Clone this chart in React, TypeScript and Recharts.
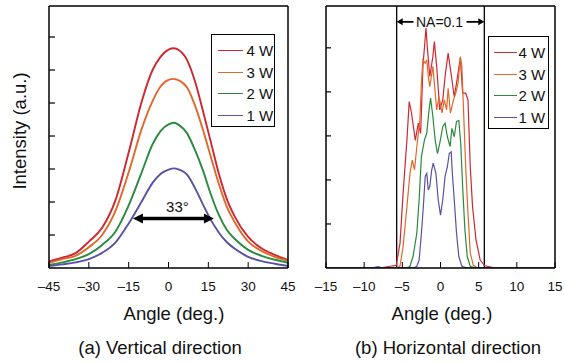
import { Label, Legend, Line, LineChart, ReferenceLine, XAxis, YAxis } from "recharts";

const FONT = "'Liberation Sans', Arial, Helvetica, sans-serif";

const seriesNames = ["4 W", "3 W", "2 W", "1 W"];
const seriesColors = ["#cf2731", "#e0692a", "#2b8a3e", "#5852a3"];

// (a) vertical direction, intensity in a.u. (one unit = one tick)
const vAngles = [-45, -40, -35, -30, -25, -20, -15, -10, -6, -3, 0, 2, 4, 7, 10, 13, 16, 19, 22, 25, 30, 35, 40, 45];
const v4W = [0.2, 0.31, 0.45, 0.8, 1.22, 2.05, 3.5, 5.07, 6.0, 6.4, 6.62, 6.66, 6.6, 6.3, 5.65, 4.75, 3.8, 2.85, 2.08, 1.55, 0.94, 0.6, 0.4, 0.24];
const v3W = [0.16, 0.27, 0.37, 0.63, 1.0, 1.72, 2.9, 4.24, 5.06, 5.5, 5.7, 5.73, 5.68, 5.47, 4.92, 4.18, 3.35, 2.54, 1.85, 1.38, 0.8, 0.52, 0.34, 0.22];
const v2W = [0.09, 0.17, 0.27, 0.42, 0.7, 1.1, 1.9, 2.92, 3.75, 4.15, 4.35, 4.4, 4.33, 4.08, 3.57, 2.95, 2.22, 1.6, 1.15, 0.88, 0.55, 0.37, 0.25, 0.16];
const v1W = [0.06, 0.11, 0.17, 0.27, 0.46, 0.77, 1.35, 2.03, 2.58, 2.85, 2.98, 3.02, 2.98, 2.83, 2.42, 1.92, 1.45, 1.07, 0.78, 0.58, 0.34, 0.21, 0.13, 0.06];
const vTicksX = [-45, -30, -15, 0, 15, 30, 45];
const vTicksY = [1, 2, 3, 4, 5, 6, 7];
const vTop = 7.94;
const fwhmFrom = -13.4;
const fwhmTo = 17.1;
const fwhmLevel = 1.5;

// (b) horizontal direction
const hAngles4W = [-15, -8, -6.6, -5.8, -5.3, -4.9, -4.4, -4.1, -3.8, -3.3, -2.9, -2.6, -2.3, -1.9, -1.7, -1.4, -1.0, -0.8, -0.5, -0.1, 0.3, 0.6, 1.0, 1.5, 1.8, 2.1, 2.6, 2.9, 3.3, 3.6, 3.9, 4.2, 4.65, 5.2, 5.8, 6.9, 8, 15];
const hInt4W = [0, 0, 0.04, 0.06, 0.57, 1.7, 2.9, 3.78, 3.52, 2.9, 3.29, 3.06, 4.58, 5.45, 4.95, 4.35, 4.8, 5.14, 4.58, 3.59, 3.82, 4.35, 4.88, 4.27, 3.89, 4.2, 4.77, 3.97, 3.97, 3.82, 2.3, 1.39, 0.64, 0.18, 0.05, 0.01, 0, 0];
const hAngles3W = [-15, -5.6, -5.3, -4.9, -4.4, -4.0, -3.7, -3.4, -3.1, -2.7, -2.5, -2.3, -2.0, -1.8, -1.6, -1.4, -1.0, -0.5, -0.2, 0.2, 0.5, 0.8, 1.0, 1.3, 1.7, 2.0, 2.3, 2.6, 2.8, 3.0, 3.3, 3.6, 3.9, 4.3, 4.8, 15];
const hInt3W = [0, 0.01, 0.05, 0.48, 1.39, 2.15, 2.45, 2.23, 2.76, 3.36, 4.2, 4.73, 4.65, 4.73, 4.35, 4.12, 4.58, 3.59, 3.89, 3.52, 3.82, 3.59, 4.08, 3.52, 3.82, 3.97, 4.2, 4.8, 4.58, 3.67, 2.3, 1.24, 0.34, 0.06, 0.01, 0];
const hAngles2W = [-15, -4.3, -4.0, -3.6, -3.1, -2.8, -2.5, -2.1, -1.8, -1.5, -1.3, -1.0, -0.7, -0.4, -0.1, 0.3, 0.6, 0.9, 1.25, 1.5, 1.8, 2.1, 2.4, 2.65, 2.9, 3.2, 3.5, 3.9, 4.4, 15];
const hInt2W = [0, 0.01, 0.04, 0.26, 0.79, 1.55, 2.53, 2.91, 3.06, 3.59, 3.86, 3.44, 2.91, 2.6, 2.83, 3.21, 3.29, 2.98, 2.76, 3.17, 2.98, 3.33, 3.35, 2.83, 1.85, 0.86, 0.26, 0.04, 0.01, 0];
const hAngles1W = [-15, -9, -8.2, -7.5, -3.4, -3.1, -2.8, -2.5, -2.25, -2.0, -1.8, -1.6, -1.4, -1.15, -0.95, -0.6, -0.3, 0.0, 0.3, 0.6, 0.9, 1.15, 1.4, 1.55, 1.8, 2.1, 2.4, 2.8, 3.3, 15];
const hInt1W = [0, 0, 0.03, 0, 0.01, 0.04, 0.18, 0.79, 1.39, 2.08, 2.15, 1.77, 1.85, 2.23, 2.38, 2.15, 1.55, 1.2, 1.55, 2.08, 2.3, 2.6, 2.64, 2.15, 1.55, 0.79, 0.26, 0.04, 0.01, 0];
const hTicksX = [-15, -10, -5, 0, 5, 10, 15];
const hTicksY = [1, 2, 3, 4, 5];
const hTop = 5.95;
const naAngle = 5.74;
const naLevel = 5.59;

const vData = vAngles.map((a, i) => ({ angle: a, w4: v4W[i], w3: v3W[i], w2: v2W[i], w1: v1W[i] }));
const vKeys = ["w4", "w3", "w2", "w1"];
const hSeries = [
  hAngles4W.map((a, i) => ({ angle: a, y: hInt4W[i] })),
  hAngles3W.map((a, i) => ({ angle: a, y: hInt3W[i] })),
  hAngles2W.map((a, i) => ({ angle: a, y: hInt2W[i] })),
  hAngles1W.map((a, i) => ({ angle: a, y: hInt1W[i] })),
];

const fmtTick = (v: number) => (v < 0 ? `\u2013${Math.abs(v)}` : `${v}`);

const tickStyle = { fill: "#111", fontSize: 13.5, fontFamily: FONT };
const frameLine = { stroke: "#000", strokeWidth: 1.5 };
const NoLabel = () => <g />;

function makeLegend(lineW: number, padLeft: number, gap: number, boxW: number) {
  return (props: any) => {
    const items = [...(props.payload || [])].sort(
      (a: any, b: any) => seriesNames.indexOf(a.value) - seriesNames.indexOf(b.value)
    );
    return (
      <div
        style={{
          border: "1.5px solid #000",
          background: "#fff",
          width: boxW,
          boxSizing: "border-box",
          padding: "5px 0 0 0",
          fontFamily: FONT,
        }}
      >
        {items.map((p: any) => (
          <div key={p.value} style={{ display: "flex", alignItems: "center", height: 21.6, paddingLeft: padLeft }}>
            <span
              style={{
                display: "inline-block",
                width: lineW,
                borderTop: `1.5px solid ${seriesColors[seriesNames.indexOf(p.value)] || p.color}`,
                marginRight: gap,
              }}
            />
            <span style={{ fontSize: 15, lineHeight: "15px", color: "#111" }}>{p.value}</span>
          </div>
        ))}
      </div>
    );
  };
}

const FwhmArrow = (p: any) => {
  const { x1, x2, y1 } = p;
  const head = 10;
  const half = 5;
  return (
    <g>
      <line x1={x1 + head - 1} y1={y1} x2={x2 - head + 1} y2={y1} stroke="#000" strokeWidth={3.5} />
      <polygon points={`${x1},${y1} ${x1 + head},${y1 - half} ${x1 + head},${y1 + half}`} fill="#000" />
      <polygon points={`${x2},${y1} ${x2 - head},${y1 - half} ${x2 - head},${y1 + half}`} fill="#000" />
      <text x={(x1 + x2) / 2 + 4} y={y1 - 7} textAnchor="middle" fontSize={15} fontFamily={FONT} fill="#111">
        33°
      </text>
    </g>
  );
};

const NaArrow = (p: any) => {
  const { x1, x2, y1 } = p;
  const mid = (x1 + x2) / 2;
  const head = 6;
  const half = 3.5;
  return (
    <g>
      <line x1={x1 + head - 1} y1={y1} x2={mid - 27} y2={y1} stroke="#000" strokeWidth={1.8} />
      <line x1={mid + 26} y1={y1} x2={x2 - head + 1} y2={y1} stroke="#000" strokeWidth={1.8} />
      <polygon points={`${x1},${y1} ${x1 + head},${y1 - half} ${x1 + head},${y1 + half}`} fill="#000" />
      <polygon points={`${x2},${y1} ${x2 - head},${y1 - half} ${x2 - head},${y1 + half}`} fill="#000" />
      <text x={mid - 1} y={y1 + 5} textAnchor="middle" fontSize={14} fontFamily={FONT} fill="#111">
        NA=0.1
      </text>
    </g>
  );
};

function VerticalPanel() {
  return (
    <LineChart width={300} height={363} data={vData} margin={{ top: 5, right: 11, left: 0, bottom: 0 }}>
      <XAxis
        dataKey="angle"
        type="number"
        domain={[-45, 45]}
        ticks={vTicksX}
        interval={0}
        allowDataOverflow
        height={95}
        axisLine={frameLine}
        tickSize={-6}
        tickMargin={19}
        tickLine={{ stroke: "#000" }}
        tick={tickStyle}
        tickFormatter={fmtTick}
      >
        <Label
          content={() => (
            <g>
              <text x={174} y={319.5} textAnchor="middle" fontSize={18.5} fontFamily={FONT} fill="#111">
                Angle (deg.)
              </text>
              <text x={160} y={354} textAnchor="middle" fontSize={18.5} fontFamily={FONT} fill="#111">
                (a) Vertical direction
              </text>
            </g>
          )}
        />
      </XAxis>
      <XAxis
        xAxisId="top"
        orientation="top"
        dataKey="angle"
        type="number"
        domain={[-45, 45]}
        allowDataOverflow
        height={1}
        axisLine={frameLine}
        tick={false}
        tickLine={false}
      />
      <YAxis
        type="number"
        domain={[0, vTop]}
        ticks={vTicksY}
        interval={0}
        allowDataOverflow
        width={49}
        axisLine={frameLine}
        tick={NoLabel}
        tickSize={-6}
        tickLine={{ stroke: "#000", strokeWidth: 1.2 }}
      >
        <Label
          content={() => (
            <text
              transform="translate(26,131) rotate(-90)"
              textAnchor="middle"
              fontSize={18.5}
              fontFamily={FONT}
              fill="#111"
            >
              Intensity (a.u.)
            </text>
          )}
        />
      </YAxis>
      <YAxis
        yAxisId="right"
        orientation="right"
        type="number"
        domain={[0, vTop]}
        allowDataOverflow
        width={1}
        axisLine={frameLine}
        tick={false}
        tickLine={false}
      />
      {vKeys.map((k, i) => (
        <Line
          key={k}
          dataKey={k}
          name={seriesNames[i]}
          type="monotone"
          stroke={seriesColors[i]}
          strokeWidth={1.9}
          dot={false}
          activeDot={false}
          isAnimationActive={false}
        />
      ))}
      <ReferenceLine
        segment={[
          { x: fwhmFrom, y: fwhmLevel },
          { x: fwhmTo, y: fwhmLevel },
        ]}
        ifOverflow="visible"
        shape={(p: any) => <FwhmArrow {...p} />}
      />
      <Legend
        layout="vertical"
        align="center"
        verticalAlign="middle"
        content={makeLegend(25, 5.5, 4, 64)}
        wrapperStyle={{ left: 211, top: 34, width: 64, height: "auto" }}
      />
    </LineChart>
  );
}

function HorizontalPanel() {
  return (
    <LineChart width={275} height={363} margin={{ top: 5, right: 9, left: 0, bottom: 0 }}>
      <XAxis
        dataKey="angle"
        type="number"
        domain={[-15, 15]}
        ticks={hTicksX}
        interval={0}
        allowDataOverflow
        height={95}
        axisLine={frameLine}
        tickSize={-6}
        tickMargin={19}
        tickLine={{ stroke: "#000" }}
        tick={tickStyle}
        tickFormatter={fmtTick}
      >
        <Label
          content={() => (
            <g>
              <text x={152} y={319.5} textAnchor="middle" fontSize={18.5} fontFamily={FONT} fill="#111">
                Angle (deg.)
              </text>
              <text x={158} y={354} textAnchor="middle" fontSize={18.5} fontFamily={FONT} fill="#111">
                (b) Horizontal direction
              </text>
            </g>
          )}
        />
      </XAxis>
      <XAxis
        xAxisId="top"
        orientation="top"
        dataKey="angle"
        type="number"
        domain={[-15, 15]}
        allowDataOverflow
        height={1}
        axisLine={frameLine}
        tick={false}
        tickLine={false}
      />
      <YAxis
        type="number"
        domain={[0, hTop]}
        ticks={hTicksY}
        interval={0}
        allowDataOverflow
        width={36}
        axisLine={frameLine}
        tick={NoLabel}
        tickSize={-5}
        tickLine={{ stroke: "#000", strokeWidth: 1.2 }}
      />
      <YAxis
        yAxisId="right"
        orientation="right"
        type="number"
        domain={[0, hTop]}
        allowDataOverflow
        width={1}
        axisLine={frameLine}
        tick={false}
        tickLine={false}
      />
      <ReferenceLine x={-naAngle} stroke="#000" strokeWidth={1.3} />
      <ReferenceLine x={naAngle} stroke="#000" strokeWidth={1.3} />
      {hSeries.map((d, i) => (
        <Line
          key={seriesNames[i]}
          data={d}
          dataKey="y"
          name={seriesNames[i]}
          type="linear"
          stroke={seriesColors[i]}
          strokeWidth={1.2}
          dot={false}
          activeDot={false}
          isAnimationActive={false}
        />
      ))}
      <ReferenceLine
        segment={[
          { x: -naAngle, y: naLevel },
          { x: naAngle, y: naLevel },
        ]}
        ifOverflow="visible"
        shape={(p: any) => <NaArrow {...p} />}
      />
      <Legend
        layout="vertical"
        align="center"
        verticalAlign="middle"
        content={makeLegend(23, 4.5, 2, 61)}
        wrapperStyle={{ left: 198, top: 36, width: 61, height: "auto" }}
      />
    </LineChart>
  );
}

export default function App() {
  return (
    <div style={{ position: "absolute", left: 0, top: 0, width: 565, height: 363, background: "#fff", overflow: "hidden" }}>
      <div style={{ position: "absolute", left: 0, top: 0 }}>
        <VerticalPanel />
      </div>
      <div style={{ position: "absolute", left: 290, top: 0 }}>
        <HorizontalPanel />
      </div>
    </div>
  );
}
